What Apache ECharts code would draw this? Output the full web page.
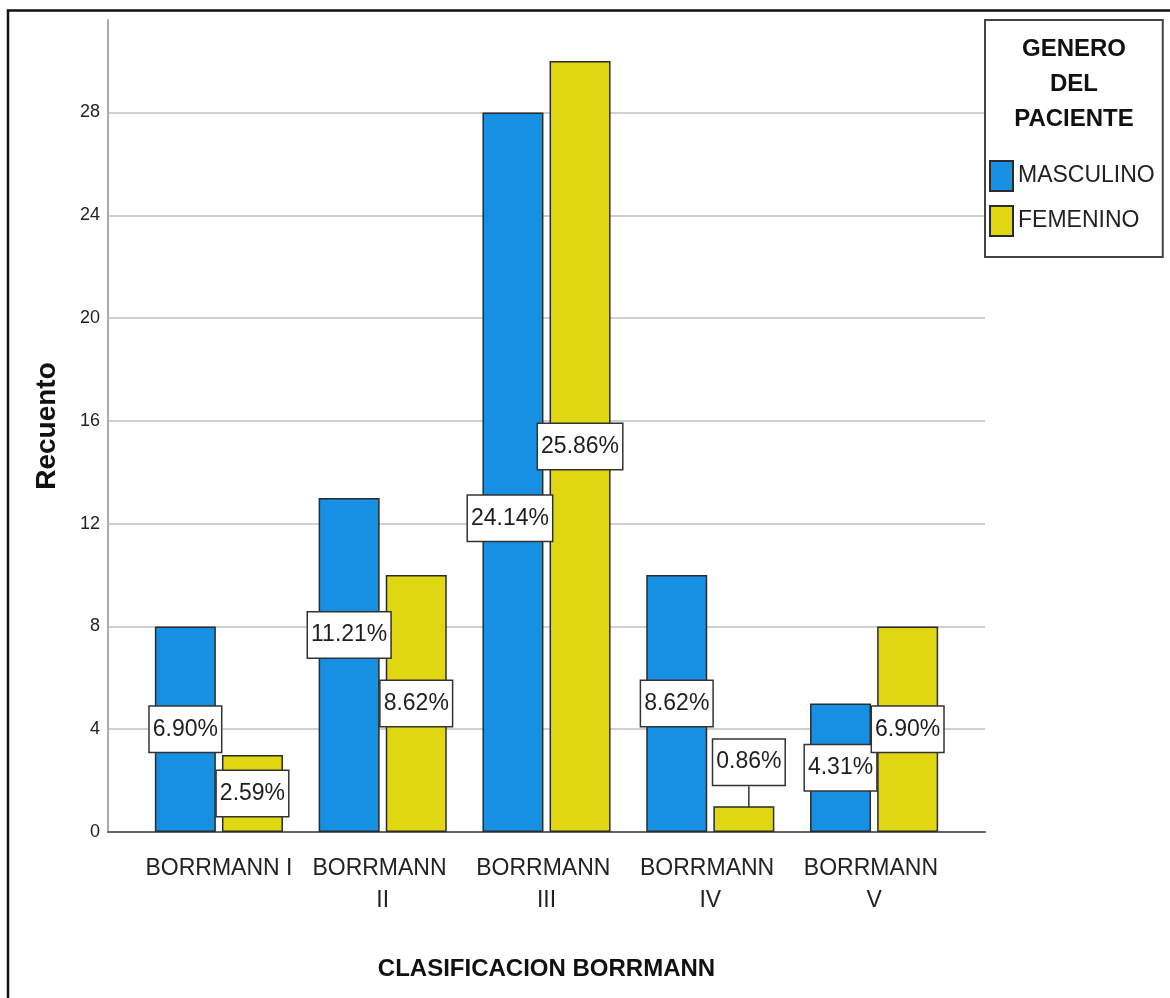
<!DOCTYPE html>
<html>
<head>
<meta charset="utf-8">
<style>
  html, body { margin: 0; padding: 0; background: #fff; }
  #chart { width: 1170px; height: 998px; }
</style>
<script src="https://cdn.jsdelivr.net/npm/echarts@6/dist/echarts.min.js"></script>
</head>
<body>
<div id="chart"></div>
<script>
// Counts per Borrmann type, split by patient gender
const categories = ['BORRMANN I', 'BORRMANN II', 'BORRMANN III', 'BORRMANN IV', 'BORRMANN V'];
const masculino = [8, 13, 28, 10, 5];
const femenino = [3, 10, 30, 1, 8];
const seriesNames = ['MASCULINO', 'FEMENINO'];
const legendTitle = 'GENERO\nDEL\nPACIENTE';
const yAxisTitle = 'Recuento';
const xAxisTitle = 'CLASIFICACION BORRMANN';

const SANS = "'Liberation Sans', Arial, sans-serif";
const total = masculino.concat(femenino).reduce((a, b) => a + b, 0);

// Labels nudged (px) so that neighbouring boxes do not collide
const labelNudge = [
  { 1: [0, -30], 2: [-3, 46] },
  { 3: [5, -57] }
];

const Y_MAX = 31.6;
const plotTop = 20, plotBottom = 166;

const chart = echarts.init(document.getElementById('chart'), null, { renderer: 'canvas' });

function barSeries(name, values, color, idx) {
  return {
    name: name,
    type: 'bar',
    xAxisIndex: 1,
    yAxisIndex: 1,
    barWidth: 61,
    barGap: '10%',
    data: values.map((v, i) => {
      const item = { value: v };
      const n = labelNudge[idx][i];
      if (n && Math.abs(n[1]) > 50) {
        // label lifted clear of a short bar: tie it back with a leader line
        item.labelLine = { show: true, lineStyle: { color: '#333', width: 1.5 } };
      }
      return item;
    }),
    itemStyle: { color: color, borderColor: '#2b2b2b', borderWidth: 1.5 },
    label: {
      show: true,
      position: 'inside',
      formatter: p => (p.value / total * 100).toFixed(2) + '%',
      color: '#1e1e1e',
      fontFamily: SANS,
      fontSize: 23,
      lineHeight: 27,
      backgroundColor: '#fff',
      borderColor: '#333',
      borderWidth: 1.5,
      padding: [10, 3, 8, 3],
      textBorderWidth: 0
    },
    labelLayout: function (p) {
      const n = labelNudge[idx][p.dataIndex];
      return n ? { dx: n[0], dy: n[1] } : {};
    }
  };
}

const option = {
  animation: false,
  backgroundColor: '#fff',
  graphic: [{
    type: 'rect',
    shape: { x: 8, y: 10.5, width: 1200, height: 1100 },
    style: { fill: 'none', stroke: '#111', lineWidth: 2.5 },
    silent: true,
    z: 100
  }],
  title: [{
    text: legendTitle,
    left: 1074,
    top: 32,
    textAlign: 'center',
    padding: 0,
    textStyle: {
      fontFamily: SANS,
      fontWeight: 'bold',
      fontSize: 24,
      lineHeight: 35,
      color: '#111'
    }
  }],
  legend: {
    data: seriesNames,
    orient: 'vertical',
    left: 985,
    top: 20,
    itemWidth: 23,
    itemHeight: 30,
    itemGap: 13,
    icon: 'rect',
    padding: [140, 8, 20, 4],
    borderColor: '#444',
    borderWidth: 2,
    textStyle: { fontFamily: SANS, fontSize: 23, color: '#222' }
  },
  grid: [
    // frame with value axis and gridlines
    { left: 108, right: 185, top: plotTop, bottom: plotBottom, containLabel: false, outerBoundsMode: 'none' },
    // bar area (inset inside the frame)
    { left: 137, right: 214, top: plotTop, bottom: plotBottom, containLabel: false, outerBoundsMode: 'none' }
  ],
  xAxis: [
    {
      gridIndex: 0,
      type: 'value',
      min: 0,
      max: 1,
      axisLine: { show: true, onZero: false, lineStyle: { color: '#666', width: 2 } },
      axisTick: { show: false },
      axisLabel: { show: false },
      splitLine: { show: false }
    },
    {
      gridIndex: 1,
      type: 'category',
      data: categories,
      axisLine: { show: false },
      axisTick: { show: false },
      axisLabel: {
        interval: 0,
        margin: 21,
        width: 150,
        overflow: 'break',
        fontFamily: SANS,
        fontSize: 23,
        lineHeight: 32,
        color: '#222'
      },
      name: xAxisTitle,
      nameLocation: 'middle',
      nameGap: 125,
      nameTextStyle: { fontFamily: SANS, fontWeight: 'bold', fontSize: 24, color: '#111' }
    }
  ],
  yAxis: [
    {
      gridIndex: 0,
      type: 'value',
      min: 0,
      max: Y_MAX,
      interval: 4,
      axisLine: { show: true, lineStyle: { color: '#aaa', width: 2 } },
      axisTick: { show: false },
      axisLabel: {
        showMaxLabel: false,
        margin: 8,
        fontFamily: SANS,
        fontSize: 18,
        color: '#222'
      },
      splitLine: {
        show: true,
        showMinLine: false,
        showMaxLine: false,
        lineStyle: { color: '#cfcfcf', width: 2 }
      },
      name: yAxisTitle,
      nameLocation: 'middle',
      nameRotate: 90,
      nameGap: 47,
      nameTextStyle: { fontFamily: SANS, fontWeight: 'bold', fontSize: 28, color: '#111' }
    },
    {
      gridIndex: 1,
      type: 'value',
      min: 0,
      max: Y_MAX,
      show: false
    }
  ],
  series: [
    barSeries(seriesNames[0], masculino, '#1590e2', 0),
    barSeries(seriesNames[1], femenino, '#e1d612', 1)
  ]
};

chart.setOption(option);
</script>
</body>
</html>
